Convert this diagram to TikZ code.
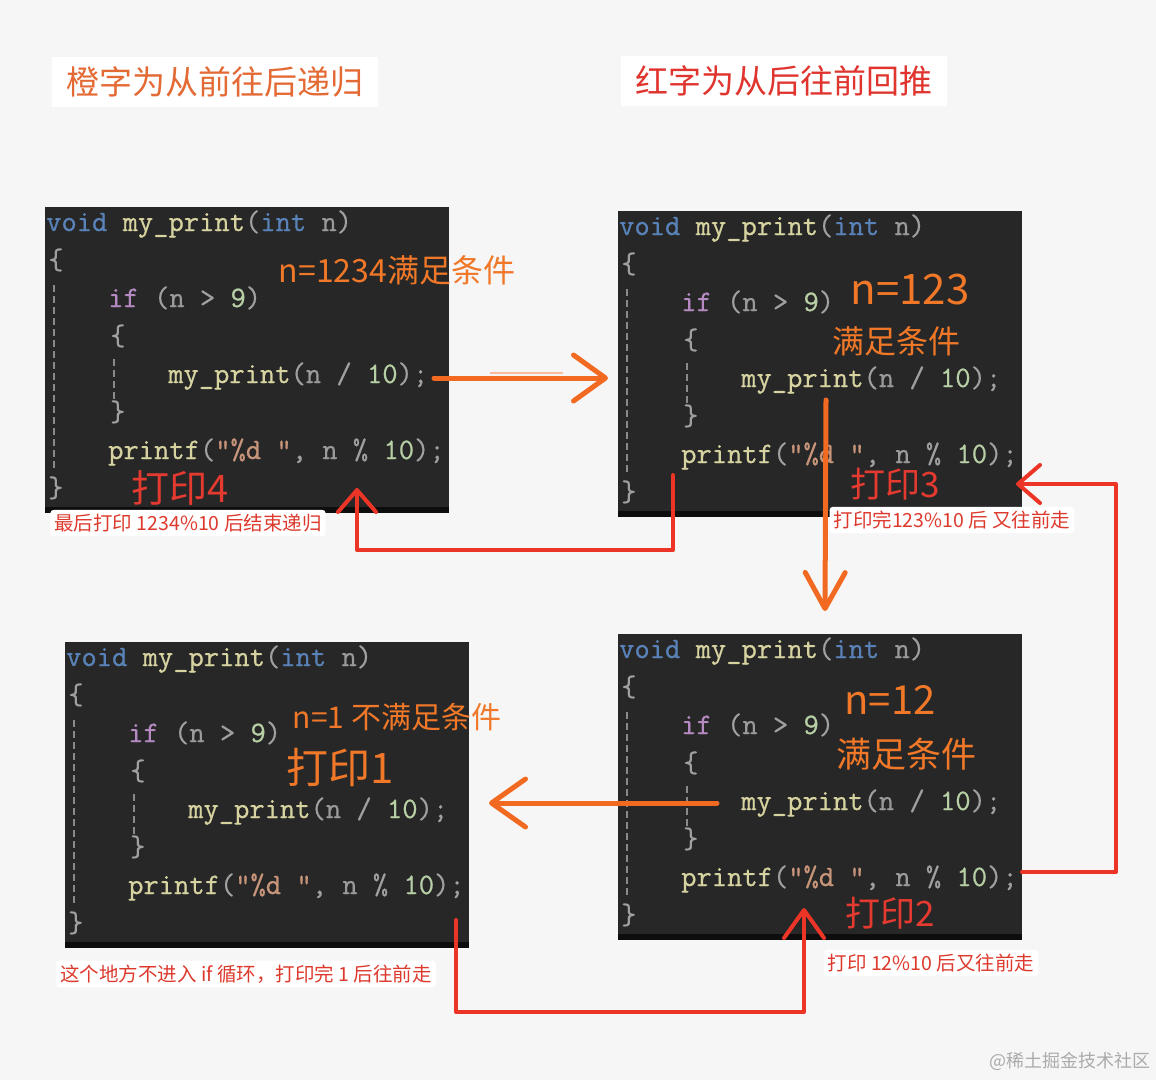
\documentclass[tikz,border=0pt]{standalone}
\usepackage{fontspec}
\newfontfamily\cjk{Noto Sans CJK SC}
\newfontfamily\codefont{Latin Modern Mono}[FakeBold=0.7]
\usetikzlibrary{calc,arrows.meta}
\definecolor{bgc}{HTML}{F6F6F6}
\definecolor{codebgc}{HTML}{272727}
\definecolor{stripc}{HTML}{0D0D0D}
\definecolor{guidec}{HTML}{8A8A8A}
\definecolor{orc}{HTML}{F26A22}
\definecolor{rdc}{HTML}{EC3526}
\definecolor{titleor}{HTML}{E46A35}
\definecolor{titlerd}{HTML}{E0342E}
\definecolor{labrd}{HTML}{DD3A2E}
\definecolor{handor}{HTML}{F07828}
\definecolor{handrd}{HTML}{E43A30}
\definecolor{wmc}{HTML}{ABABAB}
\definecolor{kw}{HTML}{5983B8}
\definecolor{fn}{HTML}{D6D3A0}
\definecolor{pn}{HTML}{A0A0A0}
\definecolor{nv}{HTML}{9A9A9A}
\definecolor{kwp}{HTML}{B58AC2}
\definecolor{num}{HTML}{B7CFA5}
\definecolor{strc}{HTML}{C8957A}
\tikzset{
  codebg/.style={fill=codebgc, minimum width=404pt, minimum height=306pt, inner sep=0pt, anchor=north west},
  code/.style={font=\codefont\fontsize{29.7}{31}\selectfont, inner sep=0pt, anchor=base west, text=pn},
  guide/.style={draw=guidec, dash pattern=on 7pt off 4pt, line width=1.3pt},
  hand/.style={inner sep=0pt},
  note/.style={fill=white, text=labrd, font=\cjk\fontsize{19.5}{22}\selectfont, inner xsep=4pt, inner ysep=4pt, rounded corners=3pt},
  titlebox/.style={fill=white, font=\cjk\fontsize{33}{36}\selectfont, minimum width=326pt, minimum height=50pt, inner sep=0pt},
  orarrow/.style={draw=orc, line width=5pt, line cap=round, line join=round},
  rdarrow/.style={draw=rdc, line width=4pt, line cap=round, line join=round},
}
\newcommand\codebox[3]{%
  \node[codebg] (#1) at (#2,#3) {};
  \fill[stripc] ($(#1.south west)+(0,-6)$) rectangle (#1.south east);
  \draw[guide] ($(#1.north west)+(9,78)$) -- ($(#1.north west)+(9,264)$);
  \draw[guide] ($(#1.north west)+(69,152)$) -- ($(#1.north west)+(69,192)$);
  \node[code] (#1-a) at ($(#1.north west)+(1,24)$) {\textcolor{kw}{void} \textcolor{fn}{my\_print}\textcolor{pn}{(}\textcolor{kw}{int} \textcolor{nv}{n}\textcolor{pn}{)}};
  \node[code] (#1-b) at ($(#1.north west)+(3,62)$) {\{};
  \node[code] (#1-c) at ($(#1.north west)+(63,100)$) {\textcolor{kwp}{if} \textcolor{pn}{(}\textcolor{nv}{n} \textcolor{pn}{>} \textcolor{num}{9}\textcolor{pn}{)}};
  \node[code] (#1-d) at ($(#1.north west)+(65,138)$) {\{};
  \node[code] (#1-e) at ($(#1.north west)+(123,176)$) {\textcolor{fn}{my\_print}\textcolor{pn}{(}\textcolor{nv}{n} \textcolor{pn}{/} \textcolor{num}{10}\textcolor{pn}{);}};
  \node[code] (#1-f) at ($(#1.north west)+(65,214)$) {\}};
  \node[code] (#1-g) at ($(#1.north west)+(63,252)$) {\textcolor{fn}{printf}\textcolor{pn}{(}\textcolor{strc}{”\%d ”}\textcolor{pn}{,} \textcolor{nv}{n} \textcolor{pn}{\%} \textcolor{num}{10}\textcolor{pn}{);}};
  \node[code] (#1-h) at ($(#1.north west)+(3,290)$) {\}};
}
\begin{document}
\begin{tikzpicture}[x=1pt,y=-1pt]
\useasboundingbox (0,0) rectangle (1156,1080);
\fill[bgc] (0,0) rectangle (1156,1080);

% titles
\node[titlebox, text=titleor] (t1) at (215,82) {橙字为从前往后递归};
\node[titlebox, text=titlerd] (t2) at (784,81) {红字为从后往前回推};

% code boxes
\codebox{b1}{45}{207}
\codebox{b2}{618}{211}
\codebox{b3}{65}{642}
\codebox{b4}{618}{634}

% handwritten notes
\node[hand, text=handor, font=\cjk\fontsize{32}{34}\selectfont] (h1) at (397,270) {n=1234满足条件};
\node[hand, text=handrd, font=\cjk\fontsize{38}{40}\selectfont] (h2) at (180,488) {打印4};
\node[hand, text=handor, font=\cjk\fontsize{42}{44}\selectfont] (h3) at (910,290) {n=123};
\node[hand, text=handor, font=\cjk\fontsize{32}{34}\selectfont] (h4) at (896,341) {满足条件};
\node[hand, text=handrd, font=\cjk\fontsize{35}{37}\selectfont] (h5) at (895,484) {打印3};
\node[hand, text=handor, font=\cjk\fontsize{30}{32}\selectfont] (h6) at (397,717) {n=1 不满足条件};
\node[hand, text=handor, font=\cjk\fontsize{42}{44}\selectfont] (h7) at (340,767) {打印1};
\node[hand, text=handor, font=\cjk\fontsize{40}{42}\selectfont] (h8) at (890,700) {n=12};
\node[hand, text=handor, font=\cjk\fontsize{35}{37}\selectfont] (h9) at (906,754) {满足条件};
\node[hand, text=handrd, font=\cjk\fontsize{35}{37}\selectfont] (h10) at (890,913) {打印2};

% connector coordinates
\coordinate (a1s) at (434,378);
\coordinate (a1e) at (608,378);
\coordinate (a2s) at (673,475);
\coordinate (a2e) at (357,488);
\coordinate (a3s) at (826,400);
\coordinate (a3e) at (825,611);
\coordinate (a4s) at (717,803);
\coordinate (a4e) at (489,803);
\coordinate (a5s) at (1022,872);
\coordinate (a5e) at (1016,484);
\coordinate (a6s) at (456,920);
\coordinate (a6e) at (804,908);

% faint stroke above arrow 1
\draw[orc!45, line width=1.2pt] (490,373) -- (563,373);

% orange arrows (forward recursion)
\draw[orarrow, -{Straight Barb[round, length=32pt, width=46pt]}] (a1s) -- (a1e);
\draw[orarrow, -{Straight Barb[round, length=36pt, width=40pt]}] (a3s) -- (a3e);
\draw[orarrow, -{Straight Barb[round, length=34pt, width=48pt]}] (a4s) -- (a4e);

% red arrows (back)
\draw[rdarrow, -{Straight Barb[round, length=22pt, width=38pt]}] (a2s) -- (a2s |- 0,550) -- (a2e |- 0,550) -- (a2e);
\draw[rdarrow, -{Straight Barb[round, length=22pt, width=38pt]}] (a5s) -- (1116,872) -- (1116,484) -- (a5e);
\draw[rdarrow, -{Straight Barb[round, length=28pt, width=40pt]}] (a6s) -- (a6s |- 0,1012) -- (a6e |- 0,1012) -- (a6e);

% notes
\node[note] (n1) at (188,523) {最后打印 1234\%10 后结束递归};
\node[note] (n2) at (952,520) {打印完123\%10 后 又往前走};
\node[note] (n3) at (246,974) {这个地方不进入 if 循环，打印完 1 后往前走};
\node[note] (n4) at (931,963) {打印 12\%10 后又往前走};

% watermark
\node[text=wmc, font=\cjk\fontsize{18}{20}\selectfont, inner sep=0pt] (wm) at (1070,1061) {@稀土掘金技术社区};
\end{tikzpicture}
\end{document}
